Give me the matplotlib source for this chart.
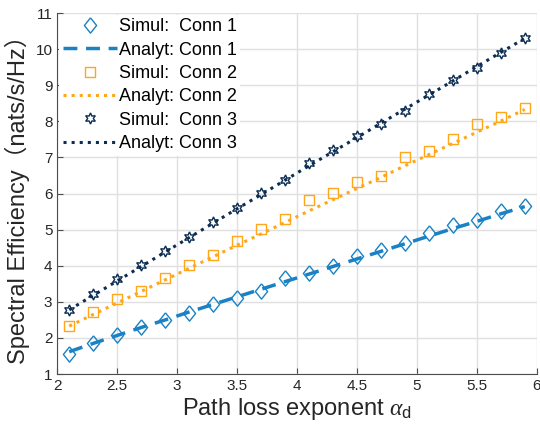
import numpy as np
import matplotlib.pyplot as plt

plt.rcParams['font.family'] = ['Liberation Sans', 'Noto Sans CJK SC', 'DejaVu Sans']
plt.rcParams['mathtext.fontset'] = 'custom'
plt.rcParams['mathtext.rm'] = 'Liberation Sans'
plt.rcParams['mathtext.it'] = 'Liberation Serif:italic'

# --- Data ---
alpha = [2.1, 2.3, 2.5, 2.7, 2.9, 3.1, 3.3, 3.5, 3.7, 3.9,
         4.1, 4.3, 4.5, 4.7, 4.9, 5.1, 5.3, 5.5, 5.7, 5.9]

sim_c1 = [1.57, 1.85, 2.08, 2.31, 2.50, 2.70, 2.93, 3.12, 3.31, 3.65,
          3.79, 3.99, 4.28, 4.43, 4.62, 4.90, 5.13, 5.27, 5.52, 5.65]
ana_c1 = [1.62, 1.85, 2.07, 2.29, 2.50, 2.72, 2.93, 3.14, 3.35, 3.56,
          3.77, 3.98, 4.19, 4.40, 4.61, 4.82, 5.03, 5.23, 5.44, 5.64]

sim_c2 = [2.33, 2.72, 3.07, 3.30, 3.67, 4.01, 4.30, 4.70, 5.01, 5.29,
          5.83, 6.02, 6.31, 6.49, 7.02, 7.19, 7.51, 7.92, 8.13, 8.38]
ana_c2 = [2.33, 2.65, 2.97, 3.29, 3.61, 3.93, 4.25, 4.57, 4.88, 5.20,
          5.52, 5.83, 6.14, 6.45, 6.77, 7.08, 7.39, 7.70, 8.01, 8.33]

sim_c3 = [2.77, 3.21, 3.63, 4.01, 4.42, 4.80, 5.22, 5.59, 6.02, 6.37,
          6.84, 7.20, 7.59, 7.94, 8.29, 8.75, 9.14, 9.47, 9.90, 10.30]
ana_c3 = [2.78, 3.18, 3.58, 3.98, 4.38, 4.78, 5.18, 5.58, 5.97, 6.37,
          6.77, 7.16, 7.55, 7.95, 8.34, 8.73, 9.12, 9.52, 9.91, 10.30]

c1, c2, c3 = '#1a82c4', '#ffa61a', '#0b2d52'

# MATLAB-style diamond, a little taller than wide
diamond = [(0, 1), (0.8, 0), (0, -1), (-0.8, 0), (0, 1)]

fig, ax = plt.subplots(figsize=(5.4, 4.36), dpi=100)
fig.subplots_adjust(left=0.106, right=0.994, top=0.970, bottom=0.142)

ax.plot(alpha, sim_c1, marker=diamond, ms=11, mfc='none', mec=c1, mew=1.0, ls='none', label='Simul:  Conn 1')
ax.plot(alpha, ana_c1, '--', color=c1, lw=2.5, dashes=(4, 2.5), label='Analyt: Conn 1')
ax.plot(alpha, sim_c2, 's', ms=6.5, mfc='none', mec=c2, mew=1.0, ls='none', label='Simul:  Conn 2')
ax.plot(alpha, ana_c2, ':', color=c2, lw=2.2, label='Analyt: Conn 2')
ax.plot(alpha, sim_c3, marker=(6, 1, 0), ms=8, mfc='none', mec=c3, mew=1.0, ls='none', label='Simul:  Conn 3')
ax.plot(alpha, ana_c3, ':', color=c3, lw=2.2, label='Analyt: Conn 3')

ax.set_xlim(2, 6)
ax.set_ylim(1, 11)
ax.set_xticks(np.arange(2, 6.01, 0.5))
ax.set_xticklabels(['2', '2.5', '3', '3.5', '4', '4.5', '5', '5.5', '6'])
ax.set_yticks(range(1, 12))

ax.grid(True, color='#e0e0e0', lw=1.0)
ax.set_axisbelow(True)
for s in ['top', 'right']:
    ax.spines[s].set_visible(False)
for s in ['left', 'bottom']:
    ax.spines[s].set_color('#4d4d4d')
ax.tick_params(direction='in', length=4, colors='#4d4d4d', labelsize=11, labelcolor='#262626')

ax.set_xlabel(r'Path loss exponent $\mathit{\alpha}_{\mathrm{d}}$', fontsize=17, color='#262626', labelpad=2)
ax.set_ylabel('Spectral Efficiency（nats/s/Hz）', fontsize=17, color='#262626', labelpad=4)

leg = ax.legend(loc='upper left', fontsize=13, frameon=True, fancybox=False,
                edgecolor='none', framealpha=1.0, handlelength=3.0,
                handletextpad=0.1, borderaxespad=0.1, labelspacing=0.35,
                borderpad=0.2)

fig.savefig('out.png', dpi=100)
